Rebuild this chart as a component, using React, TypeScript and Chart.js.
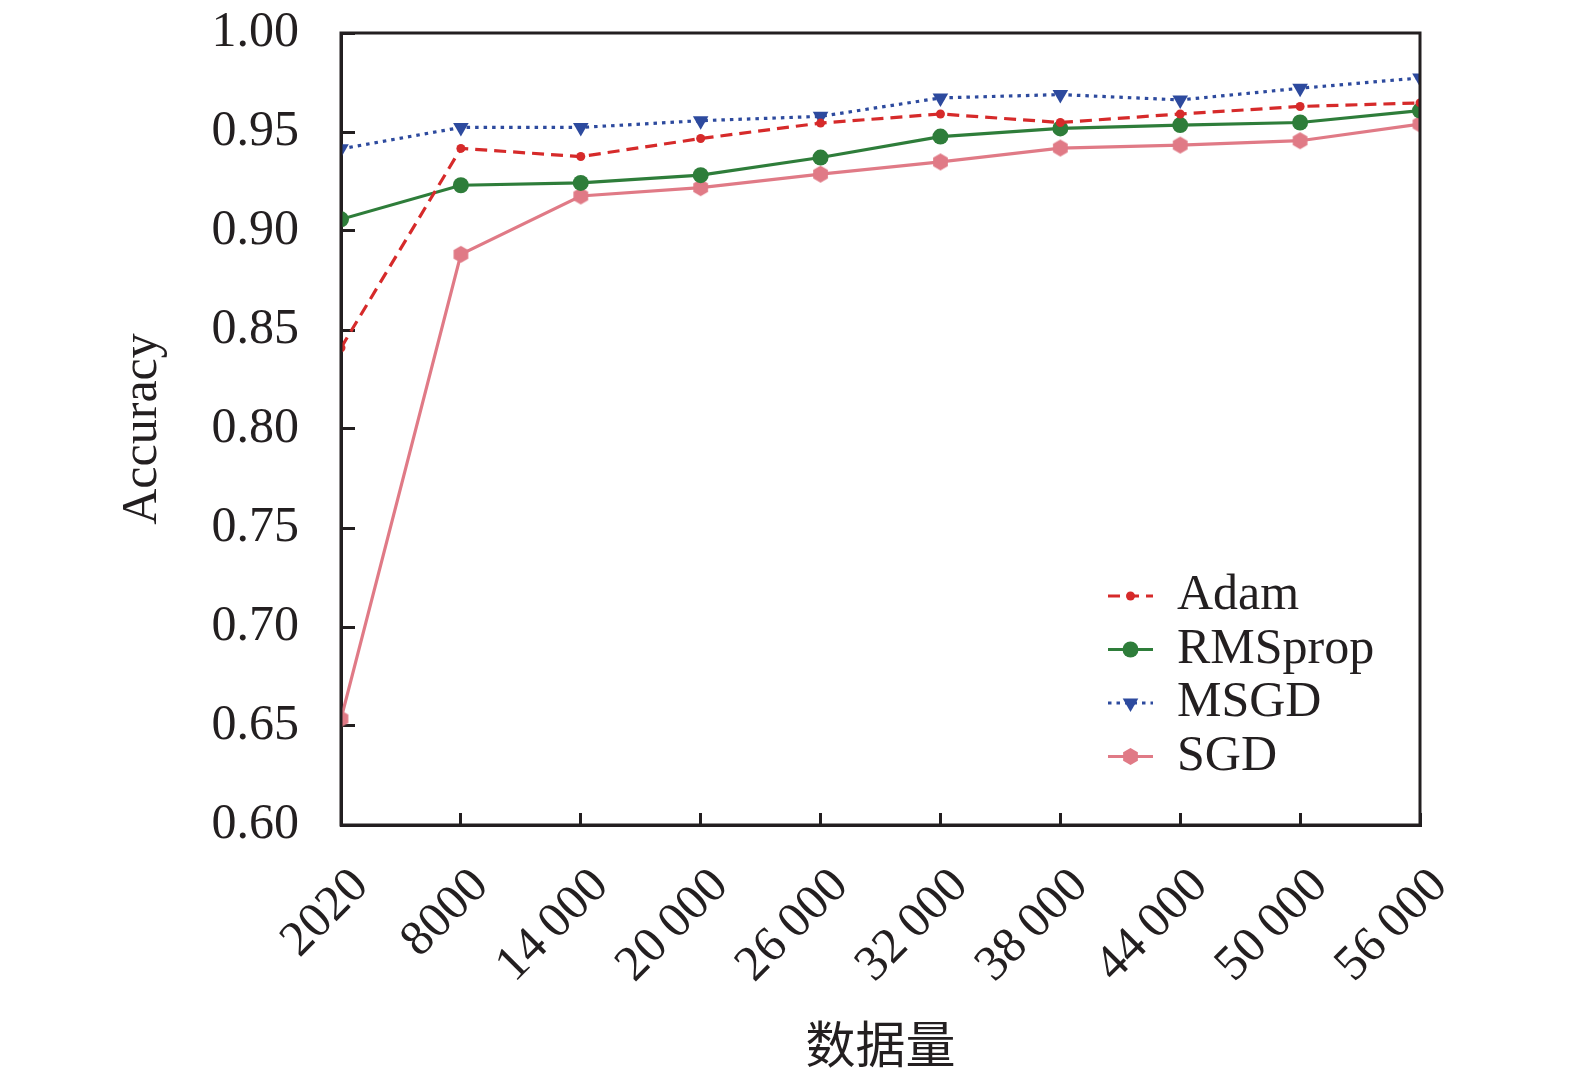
import { useEffect, useRef } from "react";
import { Chart, registerables } from "chart.js";
import { drawPoint } from "chart.js/helpers";

Chart.register(...registerables);

// data
const sizes = ["2020", "8000", "14\u2009000", "20\u2009000", "26\u2009000", "32\u2009000", "38\u2009000", "44\u2009000", "50\u2009000", "56\u2009000"];
const adam = [0.841, 0.9417, 0.9376, 0.9467, 0.9545, 0.9591, 0.9548, 0.9591, 0.9629, 0.9647];
const rmsprop = [0.9059, 0.9231, 0.9243, 0.9282, 0.9371, 0.9477, 0.9518, 0.9535, 0.9548, 0.9608];
const msgd = [0.9415, 0.9523, 0.9523, 0.9557, 0.9579, 0.9672, 0.9689, 0.9662, 0.9721, 0.9773];
const sgd = [0.6536, 0.8882, 0.9177, 0.9219, 0.9287, 0.9349, 0.9419, 0.9434, 0.9456, 0.954];
const yMin = 0.6;
const yMax = 1.0;
const yStep = 0.05;

const INK = "#231f20";
const SERIF = "'Liberation Serif', 'Times New Roman', serif";
const CJK = "'Noto Sans CJK SC', sans-serif";

function hexagon(color: string, r: number) {
  const c = document.createElement("canvas");
  const s = Math.ceil(r * 2 + 2);
  c.width = s;
  c.height = s;
  const ctx = c.getContext("2d")!;
  ctx.beginPath();
  for (let i = 0; i < 6; i++) {
    const a = Math.PI / 2 + (i * Math.PI) / 3;
    const px = s / 2 + r * Math.cos(a);
    const py = s / 2 - r * Math.sin(a);
    if (i === 0) ctx.moveTo(px, py);
    else ctx.lineTo(px, py);
  }
  ctx.closePath();
  ctx.fillStyle = color;
  ctx.fill();
  return c;
}

// box around the plot, drawn over the markers like the original
const framePlugin = {
  id: "frame",
  afterDatasetsDraw(chart: any) {
    const { ctx, chartArea: a } = chart;
    ctx.save();
    ctx.strokeStyle = INK;
    ctx.lineWidth = 3;
    ctx.strokeRect(a.left, a.top, a.right - a.left, a.bottom - a.top);
    ctx.restore();
  },
};

// legend in the lower right corner of the plot, line + marker samples
const cornerLegend = {
  id: "cornerLegend",
  afterDraw(chart: any) {
    const { ctx, chartArea } = chart;
    const x0 = chartArea.right - 312;
    const y0 = chartArea.bottom - 229;
    chart.data.datasets.forEach((ds: any, i: number) => {
      const y = y0 + i * 53.5;
      ctx.save();
      ctx.strokeStyle = ds.borderColor;
      ctx.lineWidth = ds.borderWidth;
      ctx.setLineDash(ds.borderDash || []);
      ctx.beginPath();
      ctx.moveTo(x0, y);
      ctx.lineTo(x0 + 45, y);
      ctx.stroke();
      ctx.setLineDash([]);
      ctx.fillStyle = ds.pointBackgroundColor;
      ctx.strokeStyle = ds.pointBackgroundColor;
      drawPoint(
        ctx,
        { pointStyle: ds.pointStyle, radius: ds.pointRadius, rotation: ds.pointRotation || 0, borderWidth: 0 } as any,
        x0 + 22.5,
        y
      );
      ctx.fillStyle = INK;
      ctx.font = `50px ${SERIF}`;
      ctx.textBaseline = "middle";
      ctx.textAlign = "left";
      ctx.fillText(ds.label, x0 + 69, y);
      ctx.restore();
    });
  },
};

function AccuracyChart() {
  const canvasRef = useRef<HTMLCanvasElement | null>(null);

  useEffect(() => {
    if (!canvasRef.current) return;

    const chart = new Chart(canvasRef.current, {
      type: "line",
      data: {
        labels: sizes,
        datasets: [
          {
            label: "Adam",
            data: adam,
            borderColor: "#d62a2a",
            borderWidth: 3.2,
            borderDash: [12, 7],
            pointStyle: "circle",
            pointRadius: 4.5,
            pointBackgroundColor: "#d62a2a",
            pointBorderWidth: 0,
            clip: 0,
          },
          {
            label: "RMSprop",
            data: rmsprop,
            borderColor: "#2e7d3a",
            borderWidth: 3.2,
            pointStyle: "circle",
            pointRadius: 8,
            pointBackgroundColor: "#2e7d3a",
            pointBorderWidth: 0,
            clip: 0,
          },
          {
            label: "MSGD",
            data: msgd,
            borderColor: "#2d4a9e",
            borderWidth: 3.2,
            borderDash: [3.5, 5],
            pointStyle: "triangle",
            pointRotation: 180,
            pointRadius: 9,
            pointBackgroundColor: "#2d4a9e",
            pointBorderWidth: 0,
            clip: 0,
          },
          {
            label: "SGD",
            data: sgd,
            borderColor: "#e07a86",
            borderWidth: 3.2,
            pointStyle: hexagon("#e07a86", 8.5),
            pointRadius: 8.5,
            pointBackgroundColor: "#e07a86",
            pointBorderWidth: 0,
            clip: 0,
          },
        ] as any,
      },
      options: {
        animation: false,
        responsive: false,
        events: [],
        layout: { padding: { top: 33, right: 155, left: 0, bottom: 0 } },
        plugins: {
          legend: { display: false },
          tooltip: { enabled: false },
        },
        scales: {
          x: {
            type: "category",
            offset: false,
            afterFit: (scale: any) => {
              scale.height = 260;
              scale.paddingLeft = 0;
              scale.paddingRight = 0;
              scale.paddingTop = 0;
              scale.paddingBottom = 0;
            },
            border: { display: true, color: INK, width: 3 },
            grid: {
              display: true,
              drawOnChartArea: false,
              drawTicks: true,
              tickLength: -12,
              tickWidth: 3,
              tickColor: INK,
            },
            ticks: {
              color: INK,
              minRotation: 45,
              maxRotation: 45,
              autoSkip: false,
              padding: 44,
              labelOffset: 20,
              font: { family: SERIF, size: 50 },
            },
            title: {
              display: true,
              text: "数据量",
              color: INK,
              font: { family: CJK, size: 50, lineHeight: 1 },
              padding: { top: 0, bottom: 16 },
            },
          },
          y: {
            min: yMin,
            max: yMax,
            afterFit: (scale: any) => {
              scale.width = 341;
              scale.paddingLeft = 0;
              scale.paddingRight = 0;
              scale.paddingTop = 0;
              scale.paddingBottom = 0;
            },
            border: { display: true, color: INK, width: 3 },
            grid: {
              display: true,
              drawOnChartArea: false,
              drawTicks: true,
              tickLength: -14,
              tickWidth: 3,
              tickColor: INK,
            },
            ticks: {
              stepSize: yStep,
              color: INK,
              padding: 56,
              font: { family: SERIF, size: 50 },
              callback: (v: any) => Number(v).toFixed(2),
            },
            title: {
              display: true,
              text: "Accuracy",
              color: INK,
              font: { family: SERIF, size: 50, lineHeight: 1 },
              padding: { top: 118, bottom: 0 },
            },
          },
        },
      },
      plugins: [framePlugin, cornerLegend],
    });

    return () => {
      chart.destroy();
    };
  }, []);

  return <canvas ref={canvasRef} width={1575} height={1085} style={{ display: "block" }} />;
}

export default function App() {
  return (
    <div style={{ position: "fixed", left: 0, top: 0, width: 1575, height: 1085, background: "#fff" }}>
      <AccuracyChart />
    </div>
  );
}
